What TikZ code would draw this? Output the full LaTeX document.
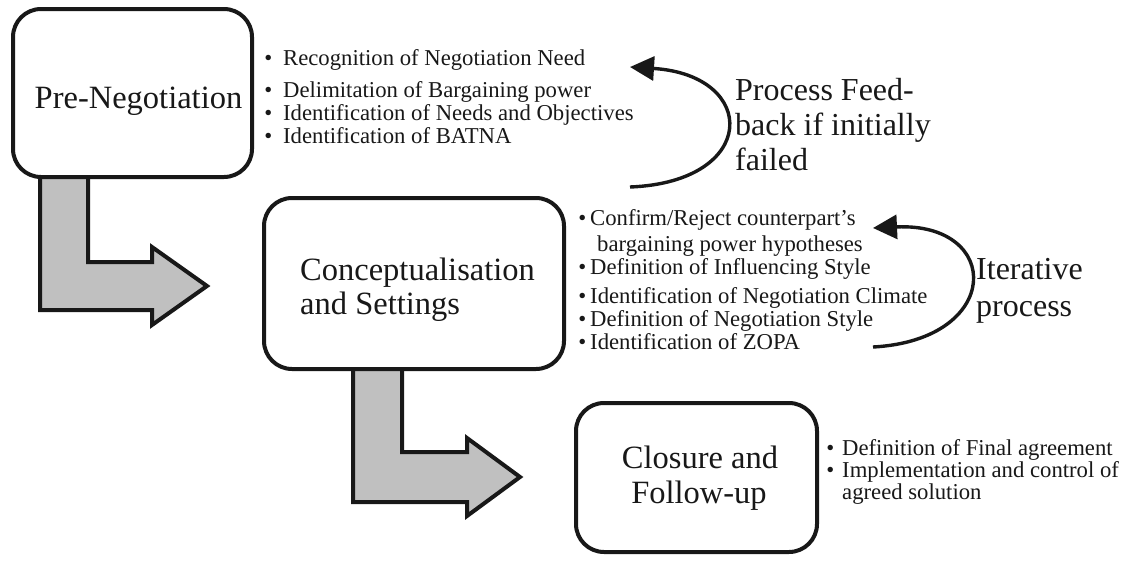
\documentclass[tikz,border=0pt]{standalone}
\usepackage{fontspec}
\setmainfont{Liberation Serif}
\usetikzlibrary{arrows.meta}

\definecolor{ink}{RGB}{24,24,24}
\definecolor{flowgray}{RGB}{192,192,192}

% bullet hanging to the left of an item; #1 = gap between glyph and text
\newcommand\hangbullet[1]{\llap{\textbullet\hspace{#1}}}

\tikzset{
  stage/.style={draw=ink, line width=4pt, rounded corners=28pt, fill=white, inner sep=0pt},
  flowarrow/.style={draw=ink, line width=4pt, fill=flowgray, line join=miter},
  stagelabel/.style={font=\fontsize{32.5}{34}\selectfont, text=ink, inner sep=0pt, anchor=base},
  sidelabel/.style={font=\fontsize{32}{34}\selectfont, text=ink, inner sep=0pt, anchor=base west},
  item/.style={font=\fontsize{22.7}{23}\selectfont, text=ink, inner sep=0pt, anchor=base west},
  loop/.style={draw=ink, line width=3.4pt, -{Triangle[length=24pt,width=24pt]}},
}

\begin{document}
\begin{tikzpicture}[x=1pt, y=-1pt]
\useasboundingbox (0,0) rectangle (1133,560);

% L-shaped flow arrows (drawn first so the boxes cover their upper ends)
\draw[flowarrow] (40,174) -- (40,310) -- (152,310) -- (152,325) -- (207,286)
  -- (152,247) -- (152,262) -- (88,262) -- (88,174) -- cycle;
\draw[flowarrow] (353,366) -- (353,502) -- (467,502) -- (467,516) -- (520,477)
  -- (467,438) -- (467,452) -- (402,452) -- (402,366) -- cycle;

% stage boxes
\node[stage, minimum width=239pt, minimum height=168pt] (b1) at (132.5,93) {};
\node[stage, minimum width=300pt, minimum height=171pt] (b2) at (414,283.5) {};
\node[stage, minimum width=241pt, minimum height=149pt] (b3) at (696.5,477.5) {};

% stage titles
\node[stagelabel] (t1) at (138.5,108) {Pre-Negotiation};
\node[sidelabel, font=\fontsize{32.5}{34}\selectfont] (t2a) at (300,280) {Conceptualisation};
\node[sidelabel, font=\fontsize{32.5}{34}\selectfont] (t2b) at (300,314) {and Settings};
\node[stagelabel] (t3a) at (700,468) {Closure and};
\node[stagelabel] (t3b) at (699,503) {Follow-up};

% pre-negotiation items
\node[item] (p1) at (283,65)  {\hangbullet{11pt}Recognition of Negotiation Need};
\node[item] (p2) at (283,97)  {\hangbullet{11pt}Delimitation of Bargaining power};
\node[item] (p3) at (283,120) {\hangbullet{11pt}Identification of Needs and Objectives};
\node[item] (p4) at (283,143) {\hangbullet{11pt}Identification of BATNA};

% conceptualisation items
\node[item] (c1) at (590,225) {\hangbullet{4pt}Confirm/Reject counterpart’s};
\node[item] (c1b) at (597,251) {bargaining power hypotheses};
\node[item] (c2) at (590,274) {\hangbullet{4pt}Definition of Influencing Style};
\node[item] (c3) at (590,303) {\hangbullet{4pt}Identification of Negotiation Climate};
\node[item] (c4) at (590,326) {\hangbullet{4pt}Definition of Negotiation Style};
\node[item] (c5) at (590,349) {\hangbullet{4pt}Identification of ZOPA};

% closure items
\node[item] (f1) at (842,455) {\hangbullet{8pt}Definition of Final agreement};
\node[item] (f2) at (842,477) {\hangbullet{8pt}Implementation and control of};
\node[item] (f2b) at (842,499) {agreed solution};

% feedback loop
\coordinate (fbTail) at (630,187);
\coordinate (fbTip) at (630,67);
\draw[loop] (fbTail) .. controls (759,182) and (759,75) .. (fbTip);
\node[sidelabel] (fb1) at (735,100) {Process Feed-};
\node[sidelabel] (fb2) at (735,135) {back if initially};
\node[sidelabel] (fb3) at (735,170) {failed};

% iteration loop
\coordinate (itTail) at (873,347);
\coordinate (itTip) at (873,228);
\draw[loop] (itTail) .. controls (1003,340) and (1003,222) .. (itTip);
\node[sidelabel] (it1) at (976,279) {Iterative};
\node[sidelabel] (it2) at (976,316) {process};
\end{tikzpicture}
\end{document}
